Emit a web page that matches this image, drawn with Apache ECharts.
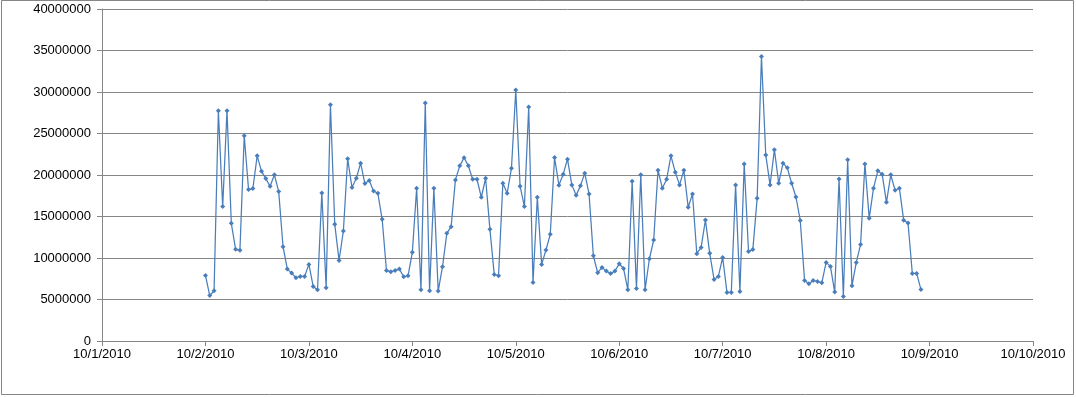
<!DOCTYPE html>
<html>
<head>
<meta charset="utf-8">
<script src="https://cdn.jsdelivr.net/npm/echarts@6/dist/echarts.min.js"></script>
<style>
  html, body { margin: 0; padding: 0; background: #fff; }
  #chart { width: 1076px; height: 397px; }
</style>
</head>
<body>
<div id="chart"></div>
<script>
// Tick labels for the x axis (one per day, starting 10/1/2010 00:00)
const xTickLabels = ['10/1/2010','10/2/2010','10/3/2010','10/4/2010','10/5/2010','10/6/2010','10/7/2010','10/8/2010','10/9/2010','10/10/2010'];
// Hourly readings start at 10/2/2010 00:00 (hour 24 counted from 10/1/2010 00:00)
const firstHour = 24;
// Hourly values
const values = [
  7900000, 5480000, 6050000, 27750000, 16190000, 27750000, 14180000, 11040000, 10920000, 24730000,
  18240000, 18370000, 22310000, 20460000, 19570000, 18650000, 20020000, 18000000, 11360000, 8660000,
  8180000, 7620000, 7780000, 7780000, 9230000, 6570000, 6170000, 17840000, 6410000, 28470000,
  14060000, 9710000, 13250000, 21950000, 18490000, 19610000, 21430000, 18970000, 19330000, 18080000,
  17800000, 14660000, 8500000, 8340000, 8500000, 8660000, 7740000, 7860000, 10680000, 18410000,
  6170000, 28670000, 6050000, 18410000, 6010000, 8950000, 12970000, 13780000, 19410000, 21100000,
  22070000, 21100000, 19490000, 19490000, 17320000, 19610000, 13450000, 8020000, 7860000, 19010000,
  17800000, 20820000, 30240000, 18650000, 16190000, 28190000, 7050000, 17320000, 9230000, 10960000,
  12850000, 22110000, 18770000, 20100000, 21910000, 18810000, 17560000, 18690000, 20220000, 17720000,
  10270000, 8220000, 8860000, 8420000, 8140000, 8420000, 9310000, 8740000, 6170000, 19250000,
  6330000, 20020000, 6170000, 9910000, 12170000, 20580000, 18410000, 19490000, 22310000, 20340000,
  18810000, 20580000, 16110000, 17720000, 10520000, 11280000, 14580000, 10560000, 7420000, 7780000,
  10070000, 5850000, 5850000, 18810000, 5970000, 21340000, 10770000, 11010000, 17190000, 34270000,
  22400000, 18800000, 23050000, 19010000, 21430000, 20860000, 19010000, 17350000, 14520000, 7290000,
  6890000, 7290000, 7170000, 7010000, 9470000, 8990000, 5890000, 19530000, 5360000, 21830000,
  6650000, 9470000, 11640000, 21340000, 14780000, 18410000, 20500000, 20100000, 16710000, 20020000,
  18160000, 18410000, 14540000, 14220000, 8140000, 8140000, 6210000
];
// Y-axis range
const yMin = 0, yMax = 40000000, yStep = 5000000;

const seriesData = values.map((v, i) => [firstHour + i, v]);

const chart = echarts.init(document.getElementById('chart'), null, { renderer: 'canvas' });
const gray = '#868686';
chart.setOption({
  animation: false,
  backgroundColor: '#ffffff',
  textStyle: { fontFamily: 'Liberation Sans, Arial, sans-serif' },
  grid: { left: 102, right: 43, top: 9, bottom: 56, containLabel: false },
  xAxis: {
    type: 'value',
    min: 0,
    max: (xTickLabels.length - 1) * 24,
    interval: 24,
    axisLine: { show: true, lineStyle: { color: gray, width: 1 } },
    axisTick: { show: true, inside: false, length: 5, lineStyle: { color: gray } },
    splitLine: { show: false },
    axisLabel: {
      color: '#000', fontSize: 13, margin: 7,
      formatter: v => xTickLabels[Math.round(v / 24)] || ''
    }
  },
  yAxis: {
    type: 'value',
    min: yMin, max: yMax, interval: yStep,
    axisLine: { show: true, lineStyle: { color: gray, width: 1 } },
    axisTick: { show: true, inside: false, length: 5, lineStyle: { color: gray } },
    splitLine: { show: true, lineStyle: { color: gray, width: 1 } },
    axisLabel: {
      color: '#000', fontSize: 13, margin: 11,
      formatter: v => String(v)
    }
  },
  graphic: [{
    type: 'rect',
    shape: { x: 1.5, y: 0.5, width: 1072, height: 394 },
    style: { fill: 'none', stroke: gray, lineWidth: 1 },
    silent: true, z: -1
  }],
  series: [{
    type: 'line',
    data: seriesData,
    smooth: false,
    symbol: 'diamond',
    symbolSize: 5,
    showAllSymbol: true,
    lineStyle: { color: '#4A7EBB', width: 1.25 },
    itemStyle: { color: '#4A7EBB', borderWidth: 0 }
  }]
});
</script>
</body>
</html>
